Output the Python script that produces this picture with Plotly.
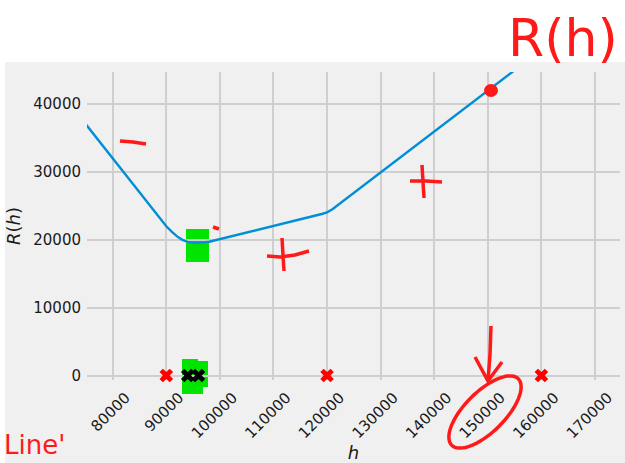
import math
import plotly.graph_objects as go

# ---- data ----
h_curve = [75000, 90000, 91000, 92000, 93000, 94000, 95000, 96000, 97000, 98000,
           100000, 110000, 119000, 120000, 121000, 160000]
R_curve = [37000, 22000, 21200, 20500, 20000, 19700, 19580, 19560, 19620, 19720,
           20100, 22050, 23800, 24050, 24500, 48000]

red_h = [90000, 120000, 160000]
red_R = [0, 0, 0]
black_h = [94000, 96000]
black_R = [0, 0]

x_ticks = [80000, 90000, 100000, 110000, 120000, 130000, 140000, 150000, 160000, 170000]
y_ticks = [0, 10000, 20000, 30000, 40000]

x_range = [75200, 174670]
y_range = [-663, 44730]

# ---- layout geometry (pixels) ----
W, H = 625, 463
L, R_, T, B = 87, 5, 72, 83
PW, PH = W - L - R_, H - T - B


def px(xp):
    return (xp - L) / PW


def py(yp):
    return (H - B - yp) / PH


def path(points_list):
    segs = []
    for pts in points_list:
        s = "M %.4f %.4f" % (px(pts[0][0]), py(pts[0][1]))
        for (a, b) in pts[1:]:
            s += " L %.4f %.4f" % (px(a), py(b))
        segs.append(s)
    return " ".join(segs)


RED = "#ff1a1a"
GREEN = "#00e400"

fig = go.Figure()
fig.add_trace(go.Scatter(x=h_curve, y=R_curve, mode="lines",
                         line=dict(color="#008fd5", width=2.4), showlegend=False))
fig.add_trace(go.Scatter(x=red_h, y=red_R, mode="markers",
                         marker=dict(symbol="x", size=12, color="#ff0000", line=dict(width=0)),
                         showlegend=False, cliponaxis=False))
fig.add_trace(go.Scatter(x=black_h, y=black_R, mode="markers",
                         marker=dict(symbol="x", size=12, color="#000000", line=dict(width=0)),
                         showlegend=False, cliponaxis=False))

shapes = []
# figure background (grey)
shapes.append(dict(type="rect", xref="paper", yref="paper", layer="below",
                   x0=px(5), x1=px(630), y0=py(470), y1=py(62),
                   fillcolor="#f0f0f0", line=dict(width=0)))
# green highlighter boxes
shapes.append(dict(type="rect", xref="paper", yref="paper", layer="below",
                   x0=px(186), x1=px(209), y0=py(262), y1=py(229),
                   fillcolor=GREEN, line=dict(width=0)))
shapes.append(dict(type="path", xref="paper", yref="paper", layer="below",
                   path=path([[(182, 359), (198, 359), (198, 361), (208, 361), (208, 387),
                               (203, 387), (203, 394), (182, 394)]]) + " Z",
                   fillcolor=GREEN, line=dict(width=0)))

# hand-drawn red marks
strokes = [
    [[(120, 141), (133, 142), (146, 144)]],
    [[(213, 227), (219, 229)]],
    [[(267, 256), (280, 257), (295, 255), (309, 251)], [(282, 238), (283, 255), (284, 271)]],
    [[(410, 181), (426, 181), (442, 182)], [(422, 165), (423, 182), (424, 198)]],
    [[(491, 326), (490, 355), (488, 381)], [(475, 357), (488, 381), (502, 362)]],
]
for st in strokes:
    shapes.append(dict(type="path", xref="paper", yref="paper", layer="above",
                       path=path(st), line=dict(color=RED, width=3.5)))

# ellipse around the 150000 label
cx, cy, a, b = 485, 412, 47, 20
ang = math.radians(-45)
ell = []
for k in range(0, 75):
    t = 2 * math.pi * k / 72 - 0.6
    ex = a * math.cos(t)
    ey = b * math.sin(t)
    ell.append((cx + ex * math.cos(ang) - ey * math.sin(ang),
                cy + ex * math.sin(ang) + ey * math.cos(ang)))
shapes.append(dict(type="path", xref="paper", yref="paper", layer="above",
                   path=path([ell]), line=dict(color=RED, width=3.5)))
# red blob on the line
shapes.append(dict(type="circle", xref="paper", yref="paper", layer="above",
                   x0=px(484), x1=px(498), y0=py(97), y1=py(84),
                   fillcolor=RED, line=dict(width=0)))

annotations = [
    dict(text="R(h)", xref="paper", yref="paper", x=px(563), y=py(38),
         xanchor="center", yanchor="middle", showarrow=False,
         font=dict(family="DejaVu Sans", size=52, color=RED)),
    dict(text="Line'", xref="paper", yref="paper", x=px(2), y=py(462),
         xanchor="left", yanchor="bottom", showarrow=False,
         font=dict(family="DejaVu Sans", size=26, color=RED)),
]

fig.update_layout(
    width=W, height=H,
    margin=dict(l=L, r=R_, t=T, b=B, pad=0),
    paper_bgcolor="white",
    plot_bgcolor="rgba(0,0,0,0)",
    font=dict(family="DejaVu Sans", size=15, color="#1a1a1a"),
    shapes=shapes,
    annotations=annotations,
    showlegend=False,
)
fig.update_xaxes(range=x_range, tickvals=x_ticks, ticktext=[str(v) for v in x_ticks],
                 tickangle=-45, showgrid=True, gridcolor="#cfcfcf", gridwidth=1.5,
                 zeroline=False, showline=False, ticks="", ticklabelshift=13,
                 ticklabelstandoff=5,
                 title=dict(text="<i>h</i>", font=dict(size=18), standoff=4))
fig.update_yaxes(range=y_range, tickvals=y_ticks, ticktext=[str(v) for v in y_ticks],
                 showgrid=True, gridcolor="#cfcfcf", gridwidth=1.5,
                 zeroline=False, showline=False, ticks="", ticklabelstandoff=5,
                 title=dict(text="<i>R</i>(<i>h</i>)", font=dict(size=18), standoff=7))

fig.write_html("out.html", config={"displayModeBar": False},
               post_script="document.body.style.margin='0';")
